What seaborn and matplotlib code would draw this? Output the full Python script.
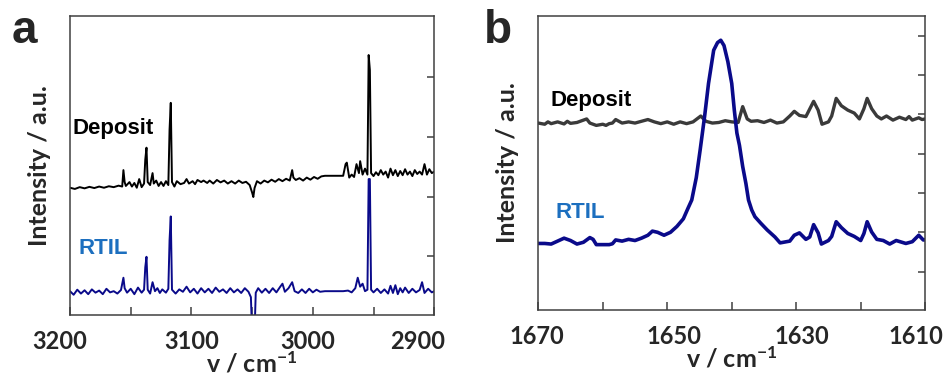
import numpy as np
import pandas as pd
import seaborn as sns
import matplotlib.pyplot as plt
from matplotlib.transforms import ScaledTranslation

sns.set_style("ticks")
plt.rcParams['font.family'] = ['Lato', 'DejaVu Sans']
plt.rcParams['mathtext.default'] = 'regular'

### Panel a data (wavenumber, intensity in a.u.)
a_dep_x = [3200, 3196, 3192, 3188, 3184, 3180, 3176, 3172, 3168, 3164, 3160, 3157, 3156, 3155, 3154,
           3151, 3149, 3147, 3145, 3143, 3141, 3139, 3138, 3137, 3136, 3134, 3132, 3131, 3129, 3127,
           3125, 3123, 3121, 3119, 3118, 3117, 3116, 3114, 3112, 3109, 3106, 3104, 3102, 3099, 3097,
           3095, 3092, 3090, 3087, 3085, 3082, 3079, 3076, 3073, 3070, 3067, 3064, 3061, 3058, 3055,
           3052, 3050, 3049, 3048, 3046, 3043, 3040, 3037, 3034, 3031, 3028, 3025, 3022, 3019, 3017,
           3016, 3014, 3011, 3008, 3005, 3002, 2999, 2996, 2993, 2990, 2985, 2980, 2975, 2973, 2972,
           2970, 2968, 2966, 2964, 2962, 2961, 2959, 2957, 2955, 2954, 2953, 2952, 2950, 2948, 2946,
           2944, 2942, 2940, 2938, 2936, 2934, 2932, 2930, 2928, 2926, 2924, 2922, 2920, 2918, 2916,
           2914, 2912, 2910, 2908, 2906, 2904, 2902, 2900]
a_dep_y = [42.6, 42.2, 42.8, 42.4, 42.9, 42.5, 43.0, 42.6, 43.1, 42.8, 43.3, 43.0, 48.5, 44.5, 43.2,
           44.5, 43.0, 44.2, 42.6, 45.5, 42.8, 44.0, 52.0, 56.0, 44.5, 43.5, 47.5, 44.0, 45.0, 43.2,
           44.5, 43.2, 44.8, 43.5, 62.0, 71.0, 44.5, 43.0, 44.8, 43.8, 44.2, 45.5, 44.0, 44.8, 43.8,
           45.2, 44.5, 45.0, 44.2, 45.0, 44.0, 45.2, 44.4, 45.0, 44.0, 44.8, 44.0, 45.0, 44.2, 44.6,
           43.5, 41.0, 39.5, 42.5, 44.8, 44.0, 45.0, 44.4, 45.3, 44.6, 45.5, 44.8, 45.6, 45.0, 48.5,
           46.0, 45.2, 45.8, 45.0, 46.0, 45.3, 46.2, 45.6, 46.4, 46.6, 46.6, 46.6, 46.6, 50.5, 51.0,
           46.0, 47.0, 46.2, 50.5, 47.5, 51.5, 47.0, 49.0, 47.0, 87.0, 82.0, 47.5, 46.5, 47.8, 46.8,
           48.5, 47.0, 48.0, 46.0, 49.0, 46.8, 48.5, 46.5, 48.2, 46.8, 48.8, 47.0, 48.0, 46.5, 48.5,
           47.2, 48.0, 47.0, 50.5, 47.0, 48.8, 47.5, 48.0]

a_il_x = [3200, 3197, 3194, 3191, 3188, 3185, 3182, 3179, 3176, 3173, 3170, 3167, 3164, 3161, 3158,
          3156, 3155, 3153, 3150, 3147, 3144, 3141, 3139, 3138, 3137, 3136, 3134, 3132, 3130, 3128,
          3126, 3124, 3121, 3119, 3118, 3117, 3116, 3113, 3110, 3107, 3104, 3101, 3098, 3095, 3092,
          3089, 3086, 3083, 3080, 3077, 3074, 3071, 3068, 3065, 3062, 3059, 3056, 3053, 3051, 3050,
          3048, 3047, 3045, 3042, 3039, 3036, 3033, 3030, 3027, 3025, 3023, 3020, 3017, 3015, 3012,
          3009, 3006, 3003, 3000, 2997, 2994, 2990, 2985, 2980, 2975, 2971, 2968, 2965, 2963, 2961,
          2959, 2957, 2955, 2954, 2953, 2952, 2950, 2947, 2944, 2941, 2938, 2936, 2934, 2932, 2930,
          2928, 2926, 2924, 2921, 2918, 2915, 2912, 2910, 2908, 2905, 2902, 2900]
a_il_y = [8.0, 6.8, 8.5, 7.2, 8.3, 7.0, 8.6, 7.5, 8.2, 7.0, 8.8, 7.6, 8.0, 7.2, 8.4,
          12.5, 9.0, 7.5, 8.8, 7.0, 9.2, 7.5, 8.5, 16.0, 19.5, 8.5, 7.2, 11.0, 8.0, 9.0,
          7.4, 8.6, 7.5, 8.8, 25.0, 33.0, 8.5, 7.2, 8.6, 7.8, 9.5, 7.6, 8.8, 7.2, 9.0,
          7.6, 8.8, 7.4, 9.2, 7.8, 8.6, 7.4, 9.0, 7.6, 8.6, 7.4, 9.0, 7.8, 6.0, -6.0,
          -6.0, 7.5, 9.0, 7.5, 8.8, 7.4, 9.0, 7.6, 9.4, 10.5, 7.8, 9.0, 11.0, 8.0, 7.4,
          8.6, 7.4, 8.8, 7.6, 8.5, 7.8, 8.0, 8.0, 8.0, 8.0, 8.2, 7.6, 9.0, 12.5, 9.5,
          10.5, 8.0, 8.5, 45.5, 45.5, 8.5, 7.6, 8.8, 7.4, 8.6, 7.2, 9.8, 7.4, 10.0, 7.0,
          9.0, 7.6, 9.2, 7.4, 8.8, 7.6, 8.4, 11.0, 7.4, 8.8, 7.6, 8.0]

### Panel b data
b_dep_x = [1670, 1669, 1668.5, 1668, 1667, 1666, 1665.5, 1665, 1664, 1663, 1662.5, 1662, 1661, 1660,
           1659.5, 1659, 1658.5, 1658, 1657.5, 1657, 1656, 1655, 1654, 1653, 1652, 1651, 1650, 1649,
           1648, 1647, 1646, 1644.8, 1644, 1643, 1642, 1641, 1640, 1639, 1638.3, 1637.6, 1637, 1636,
           1635, 1634, 1633, 1632, 1631, 1630.3, 1629.5, 1628.5, 1627.3, 1626.6, 1626, 1625, 1624.5,
           1623.8, 1623, 1622, 1621, 1620.2, 1619.5, 1619, 1618.3, 1617.5, 1616.8, 1616, 1615, 1614,
           1613, 1612.5, 1612, 1611, 1610.5, 1610]
b_dep_y = [63.6, 63.2, 64.0, 63.4, 64.0, 63.3, 64.2, 63.5, 63.8, 64.6, 65.0, 63.6, 62.8, 63.2,
           62.8, 63.4, 63.6, 64.8, 64.2, 63.6, 64.0, 63.6, 64.2, 64.8, 64.0, 63.4, 64.0, 63.2,
           64.0, 63.4, 64.0, 66.0, 64.2, 63.6, 63.8, 64.4, 64.0, 63.8, 69.2, 65.0, 64.2, 64.4,
           63.8, 64.6, 63.6, 64.0, 66.0, 67.6, 66.2, 65.8, 71.0, 68.0, 63.2, 64.0, 66.0,
           72.0, 69.5, 68.0, 67.0, 65.0, 68.5, 72.0, 68.5, 66.0, 65.0, 66.0, 64.6, 65.6,
           64.8, 65.8, 64.6, 65.4, 64.8, 65.0]

b_il_x = [1670, 1669, 1668, 1667, 1666, 1665, 1664, 1663, 1662, 1661.5, 1661, 1660, 1659, 1658.5,
          1658, 1657, 1656, 1655, 1654, 1653, 1652.3, 1651.5, 1650.5, 1649.5, 1648.5, 1647.5,
          1646.8, 1646.2, 1645.5, 1644.9, 1644.2, 1643.6, 1642.8, 1642.2, 1641.7, 1641.2, 1640.6,
          1640.0, 1639.6, 1639.2, 1638.8, 1638.3, 1637.8, 1637.4, 1636.9, 1636.4, 1635.5, 1634.5,
          1633.3, 1632.5, 1631, 1630.3, 1629.5, 1628.5, 1627.9, 1627.3, 1626.6, 1626.1, 1625,
          1624.5, 1623.8, 1623, 1622, 1621, 1620, 1619.5, 1619, 1618.3, 1617.5, 1616.5, 1615.5,
          1614.5, 1613, 1612, 1611, 1610.3, 1610]
b_il_y = [22.6, 22.6, 22.4, 23.4, 24.4, 23.6, 22.4, 23.0, 24.6, 24.0, 22.2, 22.2, 22.2, 22.5,
          23.8, 23.4, 24.0, 23.6, 24.4, 25.4, 26.8, 26.4, 25.4, 26.4, 28.4, 31.0,
          34.5, 37.4, 45.0, 54.4, 66.0, 77.1, 88.4, 91.0, 91.8, 90.0, 84.5,
          77.1, 68.0, 60.2, 56.0, 48.8, 43.0, 37.4, 34.0, 31.7, 29.5, 27.2,
          24.8, 22.8, 23.4, 25.4, 26.2, 24.0, 24.8, 29.0, 26.2, 22.4, 23.6,
          25.0, 30.0, 28.0, 26.0, 25.0, 23.6, 26.0, 30.0, 26.5, 24.0, 23.6, 22.4,
          23.6, 22.6, 23.2, 25.4, 23.8, 23.8]

dep_color_a = '#000000'
dep_color_b = '#3a3a3a'
il_color = '#0a0a8a'
label_blue = '#1c6fbf'
spine_color = '#404040'

fig = plt.figure(figsize=(9.46, 3.76), dpi=100)
ax_a = fig.add_axes([0.074, 0.162, 0.385, 0.795])
ax_b = fig.add_axes([0.569, 0.176, 0.409, 0.781])

# panel a
sns.lineplot(x=a_dep_x, y=a_dep_y, ax=ax_a, color=dep_color_a, lw=1.4, estimator=None, sort=False)
sns.lineplot(x=a_il_x, y=a_il_y, ax=ax_a, color=il_color, lw=1.4, estimator=None, sort=False)
ax_a.set_xlim(3200, 2900)
ax_a.set_ylim(0, 100)
ax_a.set_xticks([3200, 3100, 3000, 2900])
ax_a.set_xticks([3150, 3050, 2950], minor=True)
ax_a.set_yticks([19.7, 39.6, 59.6, 79.6])

# panel b
sns.lineplot(x=b_dep_x, y=b_dep_y, ax=ax_b, color=dep_color_b, lw=2.4, estimator=None, sort=False)
sns.lineplot(x=b_il_x, y=b_il_y, ax=ax_b, color=il_color, lw=2.6, estimator=None, sort=False)
ax_b.set_xlim(1670, 1610)
ax_b.set_ylim(0, 100)
ax_b.set_xticks([1670, 1650, 1630, 1610])
ax_b.set_xticks([1660, 1640, 1620], minor=True)
ax_b.set_yticks([13, 26.4, 39.8, 53.2, 66.6, 80, 93.4])

# horizontal nudges (px) of the tick labels, as placed in the original figure
label_shift = {ax_a: [-10, 0, -5, -17], ax_b: [-1, 7, 6, -9]}

for ax in (ax_a, ax_b):
    for s in ax.spines.values():
        s.set_visible(True)
        s.set_color(spine_color)
        s.set_linewidth(1.1)
    ax.tick_params(axis='x', which='both', direction='in', length=6, width=1.1, color=spine_color,
                   labelsize=17, pad=11)
    ax.tick_params(axis='y', which='both', direction='in', length=5, width=1.1, color=spine_color,
                   left=False, right=True, labelleft=False, labelright=False)
    for lab, dx in zip(ax.get_xticklabels(), label_shift[ax]):
        lab.set_fontweight('bold')
        lab.set_transform(lab.get_transform() + ScaledTranslation(dx / 100, 0, fig.dpi_scale_trans))
    ax.set_xlabel('v / cm$^{-1}$', fontsize=18, fontweight='bold', labelpad=-2)
    ax.set_ylabel('Intensity / a.u.', fontsize=18, fontweight='bold', labelpad=14)

ax_a.text(0.008, 0.625, 'Deposit', transform=ax_a.transAxes, ha='left', va='center',
          fontsize=16, fontweight='bold', family='Liberation Sans', color='black')
ax_a.text(0.022, 0.224, 'RTIL', transform=ax_a.transAxes, ha='left', va='center',
          fontsize=16, fontweight='bold', family='Liberation Sans', color=label_blue)
ax_b.text(0.031, 0.714, 'Deposit', transform=ax_b.transAxes, ha='left', va='center',
          fontsize=16, fontweight='bold', family='Liberation Sans', color='black')
ax_b.text(0.044, 0.33, 'RTIL', transform=ax_b.transAxes, ha='left', va='center',
          fontsize=16, fontweight='bold', family='Liberation Sans', color=label_blue)

fig.text(0.012, 0.886, 'a', fontsize=33, fontweight='bold', family='Liberation Sans', va='baseline')
fig.text(0.512, 0.886, 'b', fontsize=33, fontweight='bold', family='Liberation Sans', va='baseline')

fig.savefig('out.png', dpi=100)
